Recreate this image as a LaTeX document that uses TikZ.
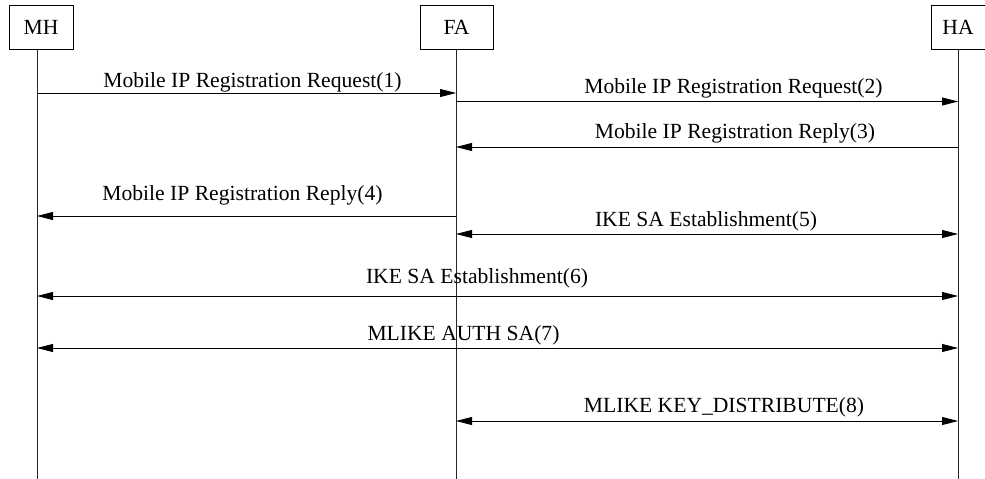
\documentclass[tikz,border=0pt]{standalone}
\usepackage{fontspec}
\setmainfont{Liberation Serif}
\usepackage{tikz}
\usetikzlibrary{arrows.meta, positioning}

\begin{document}
\begin{tikzpicture}[
    x=1pt, y=-1pt,
    font=\fontsize{21.6}{24}\selectfont,
    entity/.style={rectangle, draw, line width=0.8pt, minimum height=44pt, inner sep=0pt},
    lifeline/.style={line width=0.8pt, black!85},
    msg/.style={anchor=base, inner sep=0pt},
    arrow/.style={-{Triangle[length=16pt, width=8pt]}, line width=0.8pt},
    both/.style={{Triangle[length=16pt, width=8pt]}-{Triangle[length=16pt, width=8pt]}, line width=0.8pt}
]
    \useasboundingbox (0,0) rectangle (985,479);

    % Entities
    \node[entity, minimum width=64pt] (mh) at (41,27) {MH};
    \node[entity, minimum width=73pt] (fa) at (456.5,27) {FA};
    \node[entity, minimum width=54pt] (ha) at (958,27) {HA};

    % Lifelines
    \coordinate (mhend) at (37,479);
    \coordinate (faend) at (456,479);
    \coordinate (haend) at (958,479);
    \draw[lifeline] (mh.south -| mhend) -- (mhend);
    \draw[lifeline] (fa.south -| faend) -- (faend);
    \draw[lifeline] (ha.south -| haend) -- (haend);

    % Message levels
    \coordinate (m1) at (0,93);
    \coordinate (m2) at (0,101.5);
    \coordinate (m3) at (0,147);
    \coordinate (m4) at (0,216);
    \coordinate (m5) at (0,234);
    \coordinate (m6) at (0,296);
    \coordinate (m7) at (0,348);
    \coordinate (m8) at (0,421);

    % Messages
    \draw[arrow] (mhend |- m1) -- (faend |- m1);
    \draw[arrow] (faend |- m2) -- (haend |- m2);
    \draw[arrow] (haend |- m3) -- (faend |- m3);
    \draw[arrow] (faend |- m4) -- (mhend |- m4);
    \draw[both] (faend |- m5) -- (haend |- m5);
    \draw[both] (mhend |- m6) -- (haend |- m6);
    \draw[both] (mhend |- m7) -- (haend |- m7);
    \draw[both] (faend |- m8) -- (haend |- m8);

    % Labels
    \node[msg] (l1) at (252.5,87) {Mobile IP Registration Request(1)};
    \node[msg] (l2) at (733.5,93) {Mobile IP Registration Request(2)};
    \node[msg] (l3) at (735,138) {Mobile IP Registration Reply(3)};
    \node[msg] (l4) at (242.5,200) {Mobile IP Registration Reply(4)};
    \node[msg] (l5) at (706,226) {IKE SA Establishment(5)};
    \node[msg] (l6) at (477,283) {IKE SA Establishment(6)};
    \node[msg] (l7) at (463.5,340) {MLIKE AUTH SA(7)};
    \node[msg] (l8) at (724,412) {MLIKE KEY\_DISTRIBUTE(8)};

\end{tikzpicture}
\end{document}
